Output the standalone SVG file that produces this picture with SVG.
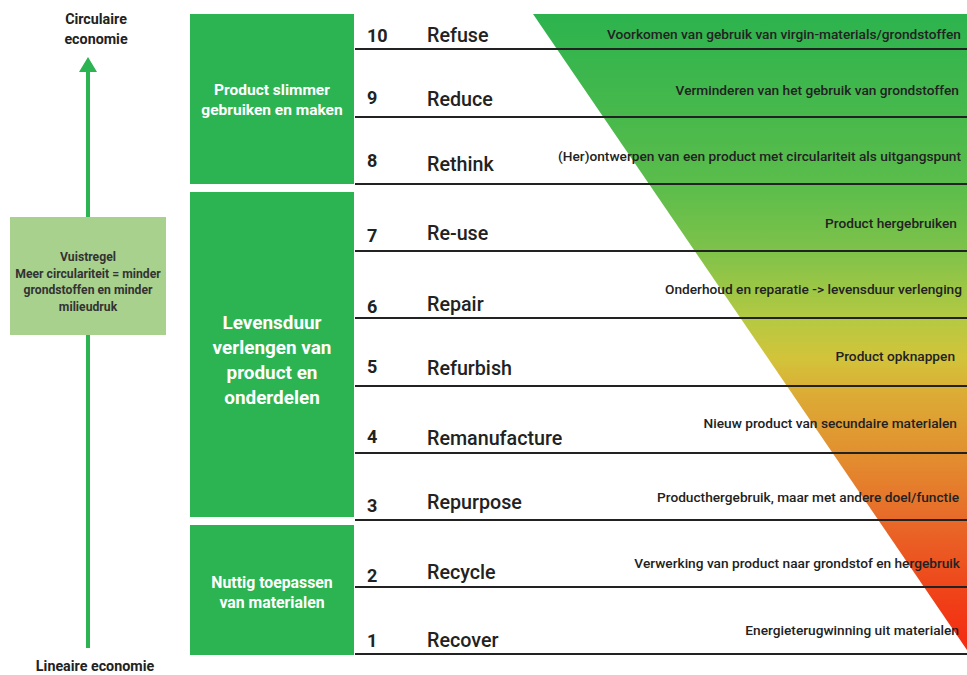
<svg xmlns="http://www.w3.org/2000/svg" width="967" height="675" viewBox="0 0 967 675">
<style>
.box{fill:#2cb452}
.wt{fill:#ffffff;font-family:Roboto,"Liberation Sans",sans-serif;font-weight:bold;text-anchor:middle}
.dk{fill:#222222;font-family:Roboto,"Liberation Sans",sans-serif}
.num{font-size:18px;font-weight:bold}
.nm{font-size:19.7px;font-weight:500}
.ds{font-size:13.7px;font-weight:500;text-anchor:end}
.ax{fill:#222222;font-family:Roboto,"Liberation Sans",sans-serif;font-size:14.3px;font-weight:bold;text-anchor:middle}
.vr{fill:#333333;font-family:Roboto,"Liberation Sans",sans-serif;font-size:12.2px;font-weight:bold;text-anchor:middle}
.rl{stroke:#222222;stroke-width:2}
</style>
<defs>
<linearGradient id="grad" x1="0" y1="14" x2="0" y2="650" gradientUnits="userSpaceOnUse">
<stop offset="0" stop-color="#2cb34e"/>
<stop offset="0.27" stop-color="#5bbd4b"/>
<stop offset="0.37" stop-color="#7dc24a"/>
<stop offset="0.48" stop-color="#b5c942"/>
<stop offset="0.54" stop-color="#d2c43a"/>
<stop offset="0.6" stop-color="#dcab35"/>
<stop offset="0.69" stop-color="#e29030"/>
<stop offset="0.8" stop-color="#e86828"/>
<stop offset="0.92" stop-color="#f04018"/>
<stop offset="1" stop-color="#f52a10"/>
</linearGradient>
</defs>
<rect width="967" height="675" fill="#ffffff"/>

<g id="triangle">
<polygon points="533,14 967,14 967,650" fill="url(#grad)"/>
</g>

<g id="axis">
<line x1="88" y1="70" x2="88" y2="648" stroke="#2cb452" stroke-width="4"/>
<polygon points="79,72 97,72 88,57" fill="#2cb452"/>
<text class="ax" x="96" y="24">Circulaire</text>
<text class="ax" x="96" y="44">economie</text>
<text class="ax" x="95" y="671">Lineaire economie</text>
</g>

<g id="vuistregel">
<rect x="10" y="217" width="156" height="118" fill="#a9d18e"/>
<text class="vr" x="88" y="261">Vuistregel</text>
<text class="vr" x="88" y="278">Meer circulariteit = minder</text>
<text class="vr" x="88" y="294">grondstoffen en minder</text>
<text class="vr" x="88" y="311">milieudruk</text>
</g>

<g id="group-slimmer">
<rect class="box" x="190" y="14" width="164" height="170"/>
<text class="wt" x="272" y="95" font-size="15.5">Product slimmer</text>
<text class="wt" x="272" y="115" font-size="15.5">gebruiken en maken</text>
</g>

<g id="group-levensduur">
<rect class="box" x="190" y="192" width="164" height="325"/>
<text class="wt" x="272" y="329" font-size="18.9">Levensduur</text>
<text class="wt" x="272" y="354" font-size="18.9">verlengen van</text>
<text class="wt" x="272" y="379" font-size="18.9">product en</text>
<text class="wt" x="272" y="404" font-size="18.9">onderdelen</text>
</g>

<g id="group-nuttig">
<rect class="box" x="190" y="525" width="164" height="130"/>
<text class="wt" x="272" y="588" font-size="15.8">Nuttig toepassen</text>
<text class="wt" x="272" y="608" font-size="15.8">van materialen</text>
</g>

<g id="connectors">
<line class="rl" x1="355" y1="49" x2="967" y2="49"/>
<line class="rl" x1="355" y1="117" x2="967" y2="117"/>
<line class="rl" x1="355" y1="184" x2="967" y2="184"/>
<line class="rl" x1="355" y1="251" x2="967" y2="251"/>
<line class="rl" x1="355" y1="318" x2="967" y2="318"/>
<line class="rl" x1="355" y1="386" x2="967" y2="386"/>
<line class="rl" x1="355" y1="453" x2="967" y2="453"/>
<line class="rl" x1="355" y1="520" x2="967" y2="520"/>
<line class="rl" x1="355" y1="587" x2="967" y2="587"/>
<line class="rl" x1="355" y1="654" x2="967" y2="654"/>
</g>

<g id="r10"><text class="dk num" x="367" y="42">10</text><text class="dk nm" x="427" y="42">Refuse</text><text class="dk ds" x="961" y="39">Voorkomen van gebruik van virgin-materials/grondstoffen</text></g>
<g id="r9"><text class="dk num" x="367" y="104">9</text><text class="dk nm" x="427" y="106">Reduce</text><text class="dk ds" x="959" y="95">Verminderen van het gebruik van grondstoffen</text></g>
<g id="r8"><text class="dk num" x="367" y="167">8</text><text class="dk nm" x="427" y="171">Rethink</text><text class="dk ds" x="961" y="161">(Her)ontwerpen van een product met circulariteit als uitgangspunt</text></g>
<g id="r7"><text class="dk num" x="367" y="242">7</text><text class="dk nm" x="427" y="240">Re-use</text><text class="dk ds" x="957" y="228">Product hergebruiken</text></g>
<g id="r6"><text class="dk num" x="367" y="313">6</text><text class="dk nm" x="427" y="311">Repair</text><text class="dk ds" x="962" y="294">Onderhoud en reparatie -&gt; levensduur verlenging</text></g>
<g id="r5"><text class="dk num" x="367" y="373">5</text><text class="dk nm" x="427" y="375">Refurbish</text><text class="dk ds" x="955" y="361">Product opknappen</text></g>
<g id="r4"><text class="dk num" x="367" y="443">4</text><text class="dk nm" x="427" y="445">Remanufacture</text><text class="dk ds" x="957" y="428">Nieuw product van secundaire materialen</text></g>
<g id="r3"><text class="dk num" x="367" y="512">3</text><text class="dk nm" x="427" y="509">Repurpose</text><text class="dk ds" x="959" y="502">Producthergebruik, maar met andere doel/functie</text></g>
<g id="r2"><text class="dk num" x="367" y="582">2</text><text class="dk nm" x="427" y="579">Recycle</text><text class="dk ds" x="960" y="568">Verwerking van product naar grondstof en hergebruik</text></g>
<g id="r1"><text class="dk num" x="367" y="647">1</text><text class="dk nm" x="427" y="647">Recover</text><text class="dk ds" x="959" y="635">Energieterugwinning uit materialen</text></g>
</svg>
